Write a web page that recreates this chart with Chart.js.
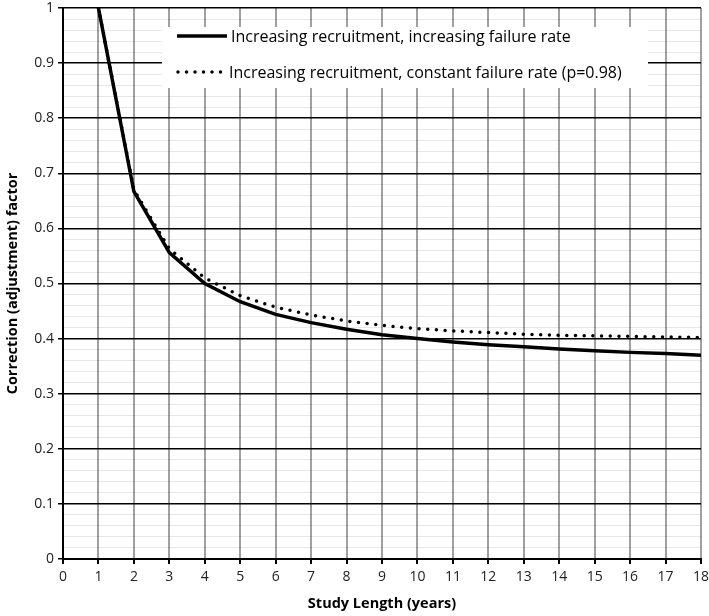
<!DOCTYPE html>
<html>
<head>
<meta charset="utf-8">
<script src="https://cdn.jsdelivr.net/npm/chart.js@4"></script>
<style>
  html, body { margin: 0; padding: 0; background: #fff; }
  #wrap { width: 709px; height: 616px; }
</style>
</head>
<body>
<div id="wrap"><canvas id="lineChart" width="709" height="616"></canvas></div>
<script>
// Values
var years = [1, 2, 3, 4, 5, 6, 7, 8, 9, 10, 11, 12, 13, 14, 15, 16, 17, 18];
var increasingFailure = [1.0, 0.667, 0.556, 0.5, 0.467, 0.444, 0.429, 0.417, 0.407, 0.4, 0.394, 0.389, 0.385, 0.381, 0.378, 0.375, 0.373, 0.37];
var constantFailure = [1.0, 0.67, 0.563, 0.51, 0.478, 0.457, 0.443, 0.432, 0.424, 0.418, 0.414, 0.411, 0.408, 0.406, 0.405, 0.404, 0.403, 0.402];
var seriesLabels = [
    'Increasing recruitment, increasing failure rate',
    'Increasing recruitment, constant failure rate (p=0.98)'
];

var FONT = "'Open Sans', sans-serif";

function isMajor(v) {
    return Math.abs(v * 10 - Math.round(v * 10)) < 1e-6;
}

function toPoints(values) {
    return years.map(function (yr, i) { return { x: yr, y: values[i] }; });
}

// legend drawn inside the plot on a white box, like the original
var boxLegend = {
    id: 'boxLegend',
    afterDatasetsDraw: function (chart) {
        var ctx = chart.ctx;
        ctx.save();
        ctx.fillStyle = '#ffffff';
        ctx.fillRect(162, 27, 486, 61);
        ctx.font = '16px ' + FONT;
        ctx.fillStyle = '#000';
        ctx.textBaseline = 'middle';
        ctx.lineWidth = 3.5;
        ctx.strokeStyle = '#000';

        ctx.beginPath();
        ctx.moveTo(177, 36);
        ctx.lineTo(227, 36);
        ctx.stroke();
        ctx.fillText(seriesLabels[0], 231, 37);

        ctx.setLineDash([0, 8.5]);
        ctx.lineCap = 'round';
        ctx.beginPath();
        ctx.moveTo(178, 72);
        ctx.lineTo(221, 72);
        ctx.stroke();
        ctx.setLineDash([]);
        ctx.fillText(seriesLabels[1], 229, 73);
        ctx.restore();
    }
};

var lineChart = new Chart(document.getElementById('lineChart'), {
    type: 'line',
    data: {
        datasets: [{
            label: seriesLabels[0],
            data: toPoints(increasingFailure),
            borderColor: '#000',
            borderWidth: 3.5,
            pointRadius: 0,
            tension: 0
        }, {
            label: seriesLabels[1],
            data: toPoints(constantFailure),
            borderColor: '#000',
            borderWidth: 3.5,
            borderDash: [0, 8.7],
            borderCapStyle: 'round',
            pointRadius: 0,
            tension: 0
        }]
    },
    options: {
        responsive: false,
        animation: false,
        layout: { padding: { top: 8, right: 8, left: 0, bottom: 0 } },
        plugins: {
            legend: { display: false },
            tooltip: { enabled: false }
        },
        scales: {
            x: {
                type: 'linear',
                min: 0,
                max: 18,
                ticks: {
                    stepSize: 1,
                    color: '#222',
                    font: { family: FONT, size: 14 },
                    padding: 5
                },
                grid: {
                    color: function (c) { return c.tick && c.tick.value === 0 ? '#000' : '#a0a0a0'; },
                    lineWidth: 2,
                    tickLength: 5,
                    tickColor: '#000'
                },
                border: { color: '#000', width: 2 },
                title: {
                    display: true,
                    text: 'Study Length (years)',
                    color: '#000',
                    font: { family: FONT, size: 14.5, weight: 'bold' },
                    padding: { top: 0, bottom: 3 }
                },
                afterFit: function (s) {
                    s.height = 57;
                    s.paddingRight = 0;
                    s.paddingLeft = 0;
                }
            },
            y: {
                min: 0,
                max: 1,
                ticks: {
                    stepSize: 0.02,
                    autoSkip: false,
                    color: '#222',
                    font: { family: FONT, size: 14 },
                    padding: 4,
                    callback: function (v) {
                        return isMajor(v) ? String(Math.round(v * 10) / 10) : '';
                    }
                },
                grid: {
                    color: function (c) { return c.tick && isMajor(c.tick.value) ? '#000' : 'rgba(0,0,0,0.09)'; },
                    lineWidth: function (c) { return c.tick && isMajor(c.tick.value) ? 1.5 : 1; },
                    tickLength: 5,
                    tickColor: function (c) { return c.tick && isMajor(c.tick.value) ? '#000' : 'rgba(0,0,0,0)'; }
                },
                border: { color: '#000', width: 2 },
                title: {
                    display: true,
                    text: 'Correction (adjustment) factor',
                    color: '#000',
                    font: { family: FONT, size: 14.5, weight: 'bold' },
                    padding: { top: 4, bottom: 2 }
                },
                afterFit: function (s) {
                    s.width = 63;
                    s.paddingTop = 0;
                    s.paddingBottom = 0;
                }
            }
        }
    },
    plugins: [boxLegend]
});
</script>
</body>
</html>
